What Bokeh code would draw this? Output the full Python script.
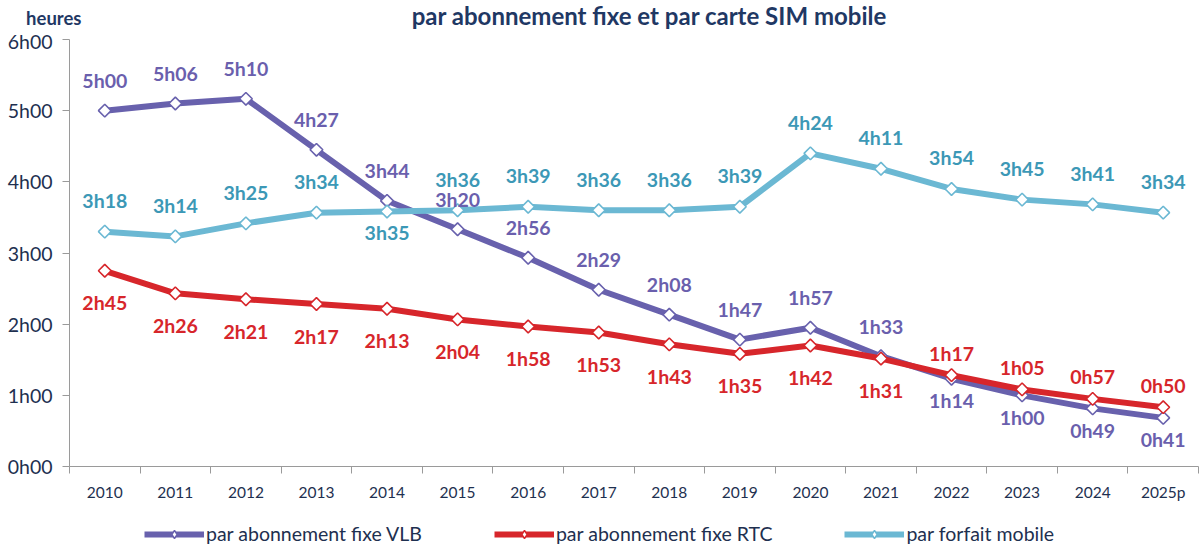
import math
from bokeh.plotting import figure
from bokeh.layouts import column
from bokeh.models import FixedTicker, Legend, LegendItem, ColumnDataSource, Range1d
from bokeh.core.properties import value
from bokeh.embed import file_html
from bokeh.resources import INLINE

# ---- data (minutes) ----
years = ["2010", "2011", "2012", "2013", "2014", "2015", "2016", "2017",
         "2018", "2019", "2020", "2021", "2022", "2023", "2024", "2025p"]
vlb = [300, 306, 310, 267, 224, 200, 176, 149, 128, 107, 117, 93, 74, 60, 49, 41]
rtc = [165, 146, 141, 137, 133, 124, 118, 113, 103, 95, 102, 91, 77, 65, 57, 50]
mobile = [198, 194, 205, 214, 215, 216, 219, 216, 216, 219, 264, 251, 234, 225, 221, 214]
series_names = ["par abonnement fixe VLB", "par abonnement fixe RTC", "par forfait mobile"]
y_ticks = [0, 60, 120, 180, 240, 300, 360]
y_tick_labels = ["0h00", "1h00", "2h00", "3h00", "4h00", "5h00", "6h00"]
title_text = "par abonnement fixe et par carte SIM mobile"
unit_text = "heures"

# label placement: a = above, b = below
vlb_place = ["a"] * 12 + ["b"] * 4
rtc_place = ["b"] * 12 + ["a"] * 4
mob_place = ["a"] * 4 + ["b"] + ["a"] * 11

FONT = "Lato"
NAVY = "#1F3864"
TICK = "#1E3050"
W = 1199
BL, BR = 69, 1


def hm(v):
    return f"{v // 60}h{v % 60:02d}"


def strip(h):
    f = figure(width=W, height=h, x_range=Range1d(BL + 1, W), y_range=Range1d(0, h),
               output_backend="svg", toolbar_location=None, min_border_left=BL,
               min_border_right=BR, min_border_top=0, min_border_bottom=0)
    f.xaxis.visible = False
    f.grid.visible = False
    f.outline_line_color = None
    ya = f.yaxis[0]
    ya.axis_line_color = None
    ya.major_tick_line_color = None
    ya.minor_tick_line_color = None
    ya.ticker = FixedTicker(ticks=[])
    return f


# ---- header: title + unit ----
top = strip(29)
top.text(x=[650], y=[29 - 14.5], text=[title_text], text_align="center", text_baseline="middle",
         text_font=value(FONT), text_font_style="bold", text_font_size="24px", text_color=NAVY)
ty = top.yaxis[0]
ty.ticker = FixedTicker(ticks=[12])
ty.major_label_overrides = {12: unit_text}
ty.major_label_standoff = -12
ty.major_tick_out = 0
ty.major_tick_in = 0
ty.major_label_text_font = FONT
ty.major_label_text_font_style = "bold"
ty.major_label_text_font_size = "18.5px"
ty.major_label_text_color = NAVY

# ---- main chart ----
xs = [i + 0.5 for i in range(len(years))]

p = figure(width=W, height=481, x_range=Range1d(0, len(years)), y_range=Range1d(0, 360),
           output_backend="svg", toolbar_location=None,
           min_border_left=BL, min_border_right=BR, min_border_top=10, min_border_bottom=44)
p.outline_line_color = None
p.grid.visible = False

xa = p.xaxis[0]
xa.ticker = FixedTicker(ticks=xs, minor_ticks=list(range(len(years) + 1)))
xa.major_label_overrides = {x: y for x, y in zip(xs, years)}
xa.major_tick_out = 0
xa.major_tick_in = 0
xa.minor_tick_out = 7
xa.minor_tick_in = 0
xa.major_label_standoff = 9
xa.axis_line_color = "#9A9A9A"
xa.minor_tick_line_color = "#9A9A9A"
xa.major_label_text_font = FONT
xa.major_label_text_font_size = "15.5px"
xa.major_label_text_color = TICK

ya = p.yaxis[0]
ya.ticker = FixedTicker(ticks=y_ticks, minor_ticks=[])
ya.major_label_overrides = {t: l for t, l in zip(y_ticks, y_tick_labels)}
ya.major_tick_out = 7
ya.major_tick_in = 0
ya.minor_tick_out = 0
ya.minor_tick_in = 0
ya.major_label_standoff = 10
ya.axis_line_color = "#9A9A9A"
ya.major_tick_line_color = "#9A9A9A"
ya.major_label_text_font = FONT
ya.major_label_text_font_size = "19.5px"
ya.major_label_text_color = TICK

specs = [
    (vlb, vlb_place, "#6861AD", "#6A5FAD", -30, 22),
    (rtc, rtc_place, "#D7262B", "#D7262B", -22, 32),
    (mobile, mob_place, "#6BB8D3", "#3C98B6", -31, 21),
]

for vals, place, lc, tc, up, down in specs:
    src = ColumnDataSource(dict(x=xs, y=vals))
    p.line("x", "y", source=src, line_color=lc, line_width=6)
    p.scatter("x", "y", source=src, marker="square", angle=math.pi / 4, size=9,
              fill_color="white", line_color=lc, line_width=1.6)

for vals, place, lc, tc, up, down in specs:
    for flag, off in (("a", up), ("b", down)):
        sx = [x for x, pl in zip(xs, place) if pl == flag]
        sy = [v for v, pl in zip(vals, place) if pl == flag]
        st = [hm(v) for v, pl in zip(vals, place) if pl == flag]
        p.text(x=sx, y=sy, text=st, y_offset=off, text_align="center", text_baseline="middle",
               text_font=value(FONT), text_font_style="bold", text_font_size="19.5px",
               text_color=tc)

# ---- legend strip ----
bot = strip(39)
items = []
for (vals, place, lc, tc, up, down), name in zip(specs, series_names):
    off = ColumnDataSource(dict(x=[-5000, -4990], y=[-5000, -5000]))
    ln = bot.line("x", "y", source=off, line_color=lc, line_width=6)
    sc = bot.scatter("x", "y", source=off, marker="diamond", size=13,
                     fill_color="white", line_color=lc, line_width=1.4)
    items.append(LegendItem(label=name, renderers=[ln, sc]))

legend = Legend(items=items, orientation="horizontal", location=(75, 4),
                glyph_width=60, glyph_height=20, spacing=72, label_standoff=2,
                label_text_font=FONT, label_text_font_size="19.5px", label_text_color=TICK,
                border_line_color=None, background_fill_alpha=0, padding=0, margin=0)
bot.add_layout(legend)

layout = column(top, p, bot, spacing=0)
open("out.html", "w").write(file_html(layout, INLINE))
